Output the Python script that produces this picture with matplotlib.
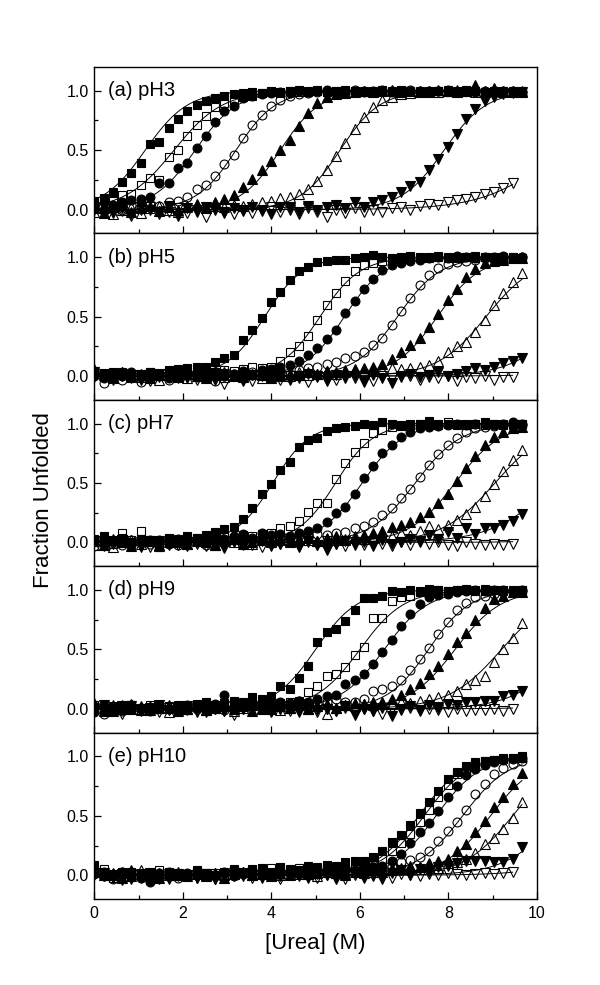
import numpy as np
import matplotlib
matplotlib.use("Agg")
import matplotlib.pyplot as plt
from matplotlib.ticker import MultipleLocator, FormatStrFormatter

plt.rcParams['font.family'] = ['Liberation Sans', 'DejaVu Sans']

# urea titration points (M)
urea = np.arange(47) * 0.21

# ---- (a) pH3 ----
a_fsq = [0.07, 0.10, 0.15, 0.23, 0.31, 0.39, 0.55, 0.57, 0.69, 0.76,
         0.83, 0.88, 0.91, 0.94, 0.96, 0.97, 0.98, 0.99, 0.98, 1.00,
         0.99, 1.00, 1.01, 0.99, 1.00, 0.99, 1.00, 1.01, 1.00, 0.99,
         1.00, 1.00, 0.99, 1.01, 1.00, 0.99, 1.00, 1.00, 0.99, 1.00,
         1.01, 1.00, 0.99, 1.00, 1.00, 0.99, 1.00]
a_osq = [0.03, 0.09, 0.07, 0.12, 0.13, 0.21, 0.27, 0.25, 0.44, 0.50,
         0.62, 0.71, 0.79, 0.86, 0.90, 0.93, 0.95, 0.96, 0.98, 0.99,
         0.98, 1.00, 0.99, 1.00, 1.01, 0.99, 1.00, 0.99, 1.00, 1.00,
         0.99, 1.01, 1.00, 0.99, 1.00, 1.00, 0.99, 1.00, 1.01, 0.99,
         1.00, 1.00, 0.99, 1.00, 0.99, 1.00, 0.99]
a_fci = [0.03, 0.00, 0.04, 0.06, 0.08, 0.09, 0.11, 0.22, 0.22, 0.35,
         0.39, 0.52, 0.62, 0.74, 0.83, 0.87, 0.94, 0.96, 0.97, 0.98,
         0.99, 0.98, 1.00, 0.99, 1.00, 1.01, 0.99, 1.00, 1.00, 0.99,
         1.00, 1.01, 0.99, 1.00, 1.00, 0.99, 1.00, 1.00, 1.01, 0.99,
         1.00, 0.99, 1.00, 1.00, 0.99, 1.00, 0.99]
a_oci = [0.02, -0.01, 0.03, 0.00, 0.04, 0.02, 0.05, 0.03, 0.06, 0.07,
         0.11, 0.17, 0.21, 0.28, 0.38, 0.46, 0.60, 0.71, 0.80, 0.87,
         0.92, 0.96, 0.97, 0.98, 0.99, 1.00, 0.99, 1.00, 1.01, 1.00,
         0.99, 1.00, 1.00, 0.99, 1.01, 1.00, 0.99, 1.00, 1.00, 0.99,
         1.00, 1.01, 0.99, 1.00, 1.00, 0.99, 0.99]
a_ftr = [0.01, -0.03, 0.02, 0.04, -0.02, 0.01, 0.03, -0.01, 0.02, 0.00,
         0.03, 0.05, 0.02, 0.06, 0.09, 0.12, 0.19, 0.26, 0.33, 0.41,
         0.50, 0.59, 0.70, 0.81, 0.90, 0.95, 0.97, 0.98, 0.99, 1.00,
         0.99, 1.00, 1.01, 0.99, 1.00, 1.00, 0.99, 1.01, 1.00, 0.99,
         1.00, 1.05, 0.99, 1.02, 1.00, 0.99, 1.00]
a_otr = [-0.02, 0.01, -0.04, 0.00, 0.02, -0.03, 0.01, 0.03, 0.00, -0.02,
         0.02, 0.04, 0.01, 0.03, 0.02, 0.04, 0.03, 0.05, 0.06, 0.07,
         0.10, 0.11, 0.13, 0.17, 0.24, 0.33, 0.45, 0.56, 0.68, 0.78,
         0.86, 0.92, 0.95, 0.97, 0.98, 0.99, 1.00, 0.99, 1.00, 1.01,
         1.00, 0.99, 1.00, 1.00, 0.99, 1.00, 0.99]
a_fdt = [0.00, 0.02, -0.03, 0.01, -0.04, 0.02, 0.00, -0.02, 0.03, -0.05,
         0.01, -0.02, 0.02, 0.00, -0.03, 0.01, -0.01, 0.02, 0.00, -0.04,
         0.02, 0.01, -0.02, 0.03, 0.00, 0.02, 0.04, 0.01, 0.06, 0.02,
         0.06, 0.08, 0.11, 0.15, 0.20, 0.23, 0.33, 0.43, 0.53, 0.64,
         0.76, 0.85, 0.91, 0.95, 0.97, 0.98, 0.99]
a_odt = [0.01, -0.03, 0.02, -0.01, -0.05, 0.00, 0.02, -0.04, -0.02, 0.01,
         -0.03, 0.00, -0.06, 0.01, -0.02, -0.04, 0.00, -0.03, -0.01, 0.02,
         -0.02, 0.00, -0.04, 0.01, -0.02, -0.06, 0.00, -0.03, 0.01, -0.02,
         0.00, -0.02, 0.01, 0.02, 0.00, 0.03, 0.05, 0.04, 0.06, 0.08,
         0.09, 0.11, 0.13, 0.15, 0.18, 0.22]
a_mid = [1.15, 1.8, 2.28, 3.2, 4.2, 5.55, 7.9, 10.5]
a_width = [0.48, 0.55, 0.48, 0.45, 0.45, 0.45, 0.48, 0.8]

# ---- (b) pH5 ----
b_fsq = [0.02, 0.00, 0.03, 0.01, -0.01, 0.02, 0.03, 0.00, 0.05, 0.06,
         0.07, 0.08, 0.08, 0.12, 0.15, 0.18, 0.30, 0.39, 0.49, 0.62,
         0.71, 0.81, 0.88, 0.92, 0.96, 0.97, 0.98, 0.98, 0.99, 1.00,
         1.02, 1.00, 0.99, 1.00, 1.01, 1.00, 0.99, 1.00, 1.00, 0.99,
         1.00, 1.01, 1.00, 0.99, 1.00, 1.00, 0.99]
b_osq = [0.04, 0.02, 0.00, 0.03, -0.02, 0.01, 0.03, 0.00, 0.02, -0.01,
         0.03, 0.02, 0.04, 0.03, 0.05, 0.04, 0.06, 0.08, 0.07, 0.08,
         0.13, 0.20, 0.25, 0.34, 0.47, 0.60, 0.70, 0.80, 0.88, 0.93,
         0.95, 0.97, 0.98, 0.99, 1.00, 0.99, 1.00, 1.01, 0.99, 1.00,
         1.00, 0.99, 1.00, 1.00, 0.99, 1.00, 0.99]
b_fci = [0.01, -0.02, 0.02, 0.00, 0.03, -0.01, 0.01, 0.02, -0.02, 0.00,
         0.02, 0.01, -0.01, 0.03, 0.00, 0.02, 0.04, 0.01, 0.05, 0.06,
         0.08, 0.09, 0.13, 0.18, 0.24, 0.31, 0.39, 0.53, 0.63, 0.73,
         0.82, 0.89, 0.93, 0.95, 0.97, 0.98, 0.99, 1.00, 0.99, 1.01,
         1.00, 0.99, 1.00, 1.00, 1.01, 0.99, 1.00]
b_oci = [0.00, -0.06, 0.01, -0.03, 0.02, -0.05, -0.02, 0.01, -0.03, 0.00,
         0.02, -0.01, 0.01, -0.04, 0.00, 0.02, -0.02, 0.03, 0.01, 0.00,
         0.03, 0.02, 0.05, 0.07, 0.08, 0.10, 0.12, 0.15, 0.17, 0.20,
         0.26, 0.32, 0.43, 0.55, 0.66, 0.77, 0.85, 0.91, 0.94, 0.96,
         0.97, 0.98, 0.99, 0.99, 1.00, 0.99, 1.00]
b_ftr = [0.05, 0.02, -0.01, 0.03, 0.00, 0.02, -0.02, 0.01, 0.03, -0.01,
         0.02, 0.00, -0.02, 0.01, 0.03, 0.00, -0.01, 0.02, 0.01, -0.02,
         0.00, 0.02, 0.01, 0.03, 0.02, 0.04, 0.03, 0.05, 0.06, 0.07,
         0.08, 0.10, 0.14, 0.20, 0.26, 0.32, 0.41, 0.52, 0.64, 0.73,
         0.83, 0.90, 0.95, 0.97, 0.98, 0.99, 0.99]
b_otr = [0.06, 0.01, -0.02, 0.03, 0.00, -0.01, 0.02, -0.03, 0.01, 0.00,
         -0.02, 0.02, 0.00, 0.03, -0.01, 0.01, 0.00, 0.02, -0.02, 0.01,
         0.02, 0.00, 0.03, 0.01, 0.02, 0.04, 0.02, 0.03, 0.05, 0.04,
         0.06, 0.05, 0.07, 0.06, 0.07, 0.08, 0.09, 0.13, 0.20, 0.25,
         0.29, 0.37, 0.47, 0.60, 0.70, 0.79, 0.87]
b_fdt = [0.03, 0.00, -0.02, 0.02, 0.01, -0.03, 0.00, 0.02, -0.01, 0.01,
         -0.02, 0.00, 0.01, -0.03, 0.02, 0.00, -0.04, 0.01, 0.00, -0.02,
         0.01, -0.03, 0.00, 0.02, -0.01, -0.04, 0.01, -0.02, 0.00, -0.05,
         0.01, -0.02, -0.06, 0.00, 0.02, -0.01, 0.01, 0.03, 0.00, 0.02,
         0.04, 0.07, 0.05, 0.08, 0.11, 0.13, 0.15]
b_odt = [-0.01, 0.02, -0.03, 0.00, -0.02, 0.01, -0.04, -0.01, 0.02, -0.02,
         0.00, -0.03, 0.01, -0.02, -0.07, 0.00, -0.02, -0.04, 0.01, -0.01,
         -0.03, 0.00, -0.02, -0.05, 0.00, -0.01, -0.03, 0.00, -0.02, -0.01,
         -0.04, 0.00, -0.02, -0.01, 0.00, -0.03, -0.01, -0.02, 0.00, -0.04,
         -0.01, -0.02, 0.00, -0.03, -0.01, -0.01]
b_mid = [3.85, 5.1, 5.65, 6.85, 7.75, 8.85, 10.7, 13.0]
b_width = [0.43, 0.45, 0.45, 0.48, 0.48, 0.55, 0.6, 0.7]

# ---- (c) pH7 ----
c_fsq = [0.03, 0.05, 0.02, 0.04, 0.00, 0.03, 0.01, 0.02, 0.04, 0.03,
         0.05, 0.04, 0.06, 0.09, 0.11, 0.13, 0.20, 0.29, 0.41, 0.49,
         0.61, 0.68, 0.80, 0.86, 0.88, 0.94, 0.96, 0.97, 0.98, 1.00,
         0.99, 1.01, 1.00, 0.99, 1.00, 1.00, 1.02, 0.99, 1.00, 1.00,
         0.99, 1.00, 1.01, 1.00, 0.99, 1.00, 1.00]
c_osq = [0.00, 0.03, -0.01, 0.08, 0.02, 0.10, 0.02, -0.04, 0.03, 0.01,
         0.02, 0.04, 0.03, 0.02, 0.05, 0.04, 0.06, 0.05, 0.07, 0.08,
         0.12, 0.14, 0.18, 0.26, 0.33, 0.33, 0.53, 0.67, 0.76, 0.84,
         0.92, 0.95, 0.97, 0.98, 0.99, 1.00, 0.99, 1.00, 1.01, 0.99,
         1.00, 1.00, 0.99, 1.00, 1.00, 0.99, 1.00]
c_fci = [0.02, -0.01, 0.01, 0.03, -0.02, 0.00, 0.02, 0.01, -0.01, 0.03,
         0.00, 0.02, 0.04, 0.01, 0.03, 0.05, 0.07, 0.04, 0.08, 0.06,
         0.07, 0.05, 0.08, 0.10, 0.12, 0.17, 0.25, 0.30, 0.41, 0.54,
         0.64, 0.75, 0.82, 0.89, 0.93, 0.96, 0.97, 0.98, 0.99, 1.00,
         0.99, 1.00, 1.00, 0.99, 1.00, 1.01, 1.00]
c_oci = [-0.03, 0.01, 0.00, -0.02, 0.02, 0.00, -0.01, 0.02, 0.01, -0.02,
         0.00, 0.01, -0.02, 0.02, 0.00, 0.03, 0.01, 0.02, 0.04, 0.03,
         0.05, 0.04, 0.06, 0.05, 0.07, 0.06, 0.08, 0.09, 0.12, 0.14,
         0.17, 0.23, 0.29, 0.37, 0.45, 0.55, 0.65, 0.74, 0.82, 0.88,
         0.93, 0.96, 0.97, 0.98, 0.99, 0.99, 0.99]
c_ftr = [0.02, -0.02, 0.03, 0.00, -0.03, 0.02, 0.01, -0.02, 0.03, 0.00,
         -0.01, 0.02, 0.00, -0.02, 0.01, 0.03, -0.01, 0.00, 0.02, 0.01,
         0.03, 0.00, 0.02, 0.04, 0.01, 0.03, 0.05, 0.02, 0.04, 0.06,
         0.08, 0.10, 0.13, 0.15, 0.17, 0.21, 0.26, 0.33, 0.41, 0.52,
         0.63, 0.73, 0.82, 0.89, 0.93, 0.96, 0.97]
c_otr = [-0.02, 0.01, -0.04, 0.00, 0.02, -0.01, 0.01, -0.03, 0.00, 0.02,
         -0.01, 0.01, 0.00, -0.02, 0.02, 0.00, 0.01, -0.01, 0.03, 0.00,
         0.02, 0.01, 0.03, 0.02, 0.01, 0.04, 0.02, 0.03, 0.05, 0.03,
         0.04, 0.06, 0.05, 0.08, 0.06, 0.10, 0.14, 0.11, 0.15, 0.19,
         0.24, 0.30, 0.39, 0.49, 0.60, 0.69, 0.78]
c_fdt = [0.01, -0.02, 0.00, 0.02, -0.01, -0.04, 0.01, 0.00, -0.02, 0.01,
         -0.03, 0.00, 0.02, -0.01, -0.05, 0.01, -0.02, 0.00, 0.01, -0.03,
         -0.01, 0.00, -0.04, 0.01, -0.02, -0.06, -0.01, 0.01, -0.02, 0.00,
         -0.03, 0.02, -0.01, 0.00, 0.03, 0.01, 0.06, 0.03, 0.09, 0.04,
         0.12, 0.07, 0.12, 0.12, 0.15, 0.18, 0.24]
c_odt = [0.00, -0.03, -0.01, 0.02, -0.02, 0.00, -0.04, -0.01, 0.01, -0.02,
         0.00, -0.01, -0.03, 0.01, -0.02, 0.00, 0.02, -0.02, -0.04, 0.00,
         -0.01, 0.01, -0.03, 0.00, -0.02, 0.01, -0.01, -0.03, 0.00, -0.02,
         0.01, -0.01, -0.03, 0.00, -0.02, 0.00, -0.01, 0.00, -0.02, -0.03,
         0.00, -0.01, -0.02, -0.01, -0.02, -0.01]
c_mid = [4.03, 5.45, 6.05, 7.25, 8.15, 9.05, 10.4, 13.0]
c_width = [0.42, 0.43, 0.47, 0.52, 0.52, 0.6, 0.7, 0.7]

# ---- (d) pH9 ----
d_fsq = [0.01, -0.02, 0.02, 0.00, 0.03, 0.01, -0.01, 0.02, 0.00, 0.03,
         0.02, 0.04, 0.06, 0.03, 0.05, 0.07, 0.06, 0.10, 0.08, 0.11,
         0.19, 0.17, 0.26, 0.36, 0.56, 0.65, 0.67, 0.74, 0.83, 0.93,
         0.93, 0.95, 0.99, 0.98, 1.00, 0.99, 1.01, 1.00, 0.99, 1.00,
         1.00, 0.99, 1.01, 1.00, 0.99, 1.00, 1.00]
d_osq = [0.03, 0.00, -0.02, 0.02, 0.01, -0.01, 0.03, 0.00, 0.02, -0.01,
         0.01, 0.03, 0.00, 0.02, 0.04, 0.01, 0.03, 0.02, 0.04, 0.03,
         0.05, 0.06, 0.07, 0.14, 0.19, 0.28, 0.29, 0.35, 0.45, 0.52,
         0.76, 0.76, 0.91, 0.94, 0.95, 0.98, 0.99, 1.00, 0.99, 1.00,
         1.01, 1.00, 0.99, 1.00, 1.00, 0.99, 1.00]
d_fci = [-0.03, 0.02, 0.00, -0.01, 0.03, 0.01, -0.02, 0.02, 0.00, 0.01,
         0.03, 0.00, 0.02, 0.04, 0.12, 0.02, 0.04, 0.03, 0.05, 0.04,
         0.06, 0.05, 0.07, 0.06, 0.08, 0.11, 0.12, 0.21, 0.24, 0.29,
         0.38, 0.48, 0.58, 0.70, 0.80, 0.88, 0.94, 0.96, 0.97, 0.98,
         0.99, 1.00, 0.99, 1.00, 1.00, 0.99, 1.00]
d_oci = [0.02, -0.04, 0.01, -0.02, 0.03, 0.00, -0.01, 0.02, 0.00, -0.02,
         0.01, 0.03, 0.00, 0.02, -0.01, 0.01, 0.03, 0.02, 0.00, 0.03,
         0.02, 0.04, 0.07, 0.03, 0.05, 0.06, 0.08, 0.06, 0.06, 0.08,
         0.15, 0.17, 0.19, 0.24, 0.33, 0.42, 0.51, 0.63, 0.73, 0.83,
         0.89, 0.94, 0.95, 0.97, 0.98, 0.99, 0.99]
d_ftr = [0.04, 0.01, -0.02, 0.03, 0.00, 0.02, -0.01, 0.01, 0.03, -0.02,
         0.00, 0.02, -0.01, 0.01, 0.03, 0.00, 0.02, -0.02, 0.01, 0.00,
         0.02, 0.01, 0.03, 0.00, 0.02, 0.04, 0.01, 0.03, 0.05, 0.04,
         0.06, 0.06, 0.08, 0.12, 0.17, 0.22, 0.29, 0.36, 0.46, 0.56,
         0.64, 0.75, 0.85, 0.92, 0.95, 0.98, 0.98]
d_otr = [0.05, -0.02, 0.03, 0.00, 0.04, -0.01, 0.02, 0.01, -0.03, 0.02,
         0.00, 0.03, -0.01, 0.01, 0.02, -0.02, 0.01, 0.03, 0.00, 0.02,
         -0.01, 0.01, 0.03, 0.00, 0.02, -0.04, 0.01, 0.03, 0.02, 0.04,
         0.03, 0.05, 0.04, 0.06, 0.05, 0.07, 0.08, 0.10, 0.12, 0.15,
         0.21, 0.24, 0.28, 0.39, 0.50, 0.60, 0.72]
d_fdt = [0.00, 0.03, -0.01, 0.02, 0.00, -0.02, 0.01, 0.03, -0.01, 0.00,
         0.02, -0.03, 0.01, 0.00, -0.02, 0.02, 0.00, -0.01, 0.01, -0.02,
         0.00, 0.02, -0.03, 0.01, -0.01, 0.00, -0.02, 0.02, -0.05, 0.00,
         -0.02, 0.01, -0.06, 0.00, 0.02, -0.01, 0.03, 0.01, 0.04, 0.03,
         0.06, 0.06, 0.07, 0.07, 0.11, 0.12, 0.15]
d_odt = [0.01, -0.02, 0.00, -0.04, 0.02, -0.01, 0.00, -0.03, 0.01, -0.02,
         -0.01, 0.01, -0.03, 0.00, -0.02, -0.05, 0.00, -0.01, 0.02, -0.03,
         0.00, -0.02, -0.01, 0.01, -0.03, 0.00, -0.02, 0.01, -0.01, 0.00,
         -0.02, -0.04, 0.00, -0.01, 0.01, -0.02, 0.00, -0.01, -0.03, 0.00,
         -0.02, -0.01, -0.01, 0.00, -0.02, 0.00]
d_mid = [5.0, 6.0, 6.55, 7.55, 8.15, 9.2, 10.7, 13.0]
d_width = [0.47, 0.5, 0.5, 0.47, 0.52, 0.6, 0.6, 0.7]

# ---- (e) pH10 ----
e_fsq = [0.09, 0.02, 0.00, 0.03, -0.01, 0.02, 0.01, -0.02, 0.03, 0.00,
         0.01, 0.04, 0.02, 0.00, 0.03, 0.05, 0.02, 0.04, 0.06, 0.03,
         0.07, 0.05, 0.04, 0.08, 0.06, 0.09, 0.07, 0.11, 0.12, 0.12,
         0.15, 0.20, 0.28, 0.34, 0.42, 0.52, 0.62, 0.71, 0.81, 0.87,
         0.92, 0.95, 0.96, 0.97, 0.99, 0.99, 1.00]
e_osq = [0.03, 0.05, -0.02, 0.01, 0.03, 0.00, 0.02, 0.04, -0.01, 0.02,
         0.00, 0.03, 0.01, 0.02, 0.00, 0.04, 0.02, 0.05, 0.03, 0.06,
         0.04, 0.03, 0.06, 0.05, 0.07, 0.05, 0.08, 0.06, 0.07, 0.09,
         0.10, 0.14, 0.20, 0.27, 0.35, 0.45, 0.55, 0.66, 0.76, 0.85,
         0.90, 0.94, 0.96, 0.97, 0.98, 0.99, 0.99]
e_fci = [0.02, -0.01, 0.01, 0.03, 0.00, -0.02, -0.06, 0.02, -0.01, 0.00,
         0.02, 0.00, 0.01, 0.00, 0.03, -0.01, 0.02, 0.00, 0.04, 0.01,
         0.02, 0.03, 0.01, 0.04, 0.02, 0.05, 0.03, 0.06, 0.04, 0.05,
         0.07, 0.08, 0.12, 0.18, 0.27, 0.36, 0.44, 0.54, 0.66, 0.75,
         0.84, 0.89, 0.93, 0.95, 0.97, 0.98, 0.99]
e_oci = [0.01, 0.03, -0.03, 0.00, 0.02, -0.01, 0.02, 0.00, 0.03, -0.02,
         0.00, 0.02, 0.01, -0.01, 0.02, 0.00, 0.01, 0.03, 0.00, 0.02,
         0.01, 0.03, 0.02, 0.04, 0.03, 0.02, 0.05, 0.04, 0.06, 0.05,
         0.07, 0.06, 0.08, 0.11, 0.13, 0.15, 0.20, 0.29, 0.37, 0.45,
         0.55, 0.68, 0.77, 0.85, 0.90, 0.94, 0.96]
e_ftr = [0.03, 0.00, 0.02, -0.02, 0.04, 0.01, -0.01, 0.02, 0.00, 0.03,
         -0.01, 0.01, 0.00, 0.02, -0.02, 0.01, 0.03, 0.00, 0.01, -0.01,
         0.02, 0.00, 0.03, 0.01, 0.02, 0.04, 0.02, 0.00, 0.03, 0.05,
         0.04, 0.03, 0.06, 0.05, 0.08, 0.07, 0.10, 0.12, 0.14, 0.20,
         0.26, 0.36, 0.46, 0.57, 0.66, 0.77, 0.86]
e_otr = [0.04, 0.02, 0.00, 0.03, -0.01, 0.04, 0.01, -0.02, 0.02, 0.00,
         0.01, 0.03, -0.01, 0.02, 0.00, 0.01, 0.03, 0.00, 0.02, 0.01,
         0.00, 0.04, 0.01, 0.02, -0.01, 0.03, 0.02, 0.01, 0.04, 0.02,
         0.03, 0.05, 0.04, 0.06, 0.05, 0.07, 0.08, 0.06, 0.10, 0.11,
         0.14, 0.19, 0.26, 0.31, 0.39, 0.48, 0.62]
e_fdt = [0.00, 0.02, -0.02, 0.01, -0.03, 0.00, 0.02, -0.01, -0.03, 0.01,
         0.00, -0.02, 0.01, -0.03, 0.00, 0.02, -0.01, 0.00, -0.02, 0.01,
         -0.01, 0.00, 0.02, -0.02, 0.01, 0.00, -0.03, 0.01, 0.02, -0.02,
         0.00, -0.03, 0.02, 0.04, 0.00, 0.05, 0.03, 0.07, 0.08, 0.10,
         0.12, 0.12, 0.12, 0.11, 0.11, 0.14, 0.24]
e_odt = [0.02, -0.01, 0.00, -0.04, 0.01, -0.02, 0.00, -0.03, 0.01, -0.01,
         0.00, -0.02, 0.01, -0.03, 0.00, -0.01, 0.02, -0.02, 0.00, -0.01,
         -0.03, 0.00, -0.01, 0.01, -0.02, 0.00, -0.01, -0.03, 0.00, 0.01,
         -0.01, 0.00, -0.02, 0.01, 0.00, -0.01, 0.01, 0.00, 0.02, 0.01,
         0.00, 0.01, 0.02, 0.01, 0.02, 0.03]
e_mid = [7.33, 7.45, 7.72, 8.32, 8.95, 9.45, 10.5, 12.0]
e_width = [0.5, 0.5, 0.5, 0.52, 0.52, 0.55, 0.6, 0.7]

panel_labels = ["(a) pH3", "(b) pH5", "(c) pH7", "(d) pH9", "(e) pH10"]
panels = [
    ([a_fsq, a_osq, a_fci, a_oci, a_ftr, a_otr, a_fdt, a_odt], a_mid, a_width),
    ([b_fsq, b_osq, b_fci, b_oci, b_ftr, b_otr, b_fdt, b_odt], b_mid, b_width),
    ([c_fsq, c_osq, c_fci, c_oci, c_ftr, c_otr, c_fdt, c_odt], c_mid, c_width),
    ([d_fsq, d_osq, d_fci, d_oci, d_ftr, d_otr, d_fdt, d_odt], d_mid, d_width),
    ([e_fsq, e_osq, e_fci, e_oci, e_ftr, e_otr, e_fdt, e_odt], e_mid, e_width),
]

markers = ['s', 's', 'o', 'o', '^', '^', 'v', 'v']
filled = [True, False, True, False, True, False, True, False]
msizes = [5.8, 5.8, 6.4, 6.4, 7.2, 7.2, 7.2, 7.2]


def two_state(x, mid, width):
    return 1.0 / (1.0 + np.exp((mid - x) / width))


fig = plt.figure(figsize=(6.0, 9.85), dpi=100)
W, H = 600.0, 985.0
left, right = 94.3, 537.0
top0, ph = 67.0, 166.4

for i, (series, mids, widths) in enumerate(panels):
    bottom_px = top0 + ph * (i + 1)
    ax = fig.add_axes([left / W, 1 - bottom_px / H, (right - left) / W, ph / H])
    for j, y in enumerate(series):
        xs = urea[:len(y)]
        ax.plot(xs, y, linestyle='none', marker=markers[j], ms=msizes[j],
                mec='black', mew=0.8,
                mfc='black' if filled[j] else 'none', zorder=2)
        xf = np.linspace(0, xs[-1], 300)
        ax.plot(xf, two_state(xf, mids[j], widths[j]), color='black',
                lw=0.7, zorder=3)
    ax.set_xlim(0, 10)
    ax.set_ylim(-0.2, 1.2)
    ax.set_yticks([0.0, 0.5, 1.0])
    ax.yaxis.set_major_formatter(FormatStrFormatter('%.1f'))
    ax.yaxis.set_minor_locator(MultipleLocator(0.25))
    ax.xaxis.set_major_locator(MultipleLocator(2))
    ax.xaxis.set_minor_locator(MultipleLocator(1))
    ax.tick_params(axis='x', which='major', direction='in', length=5, width=0.9,
                   labelsize=11.5, pad=5)
    ax.tick_params(axis='x', which='minor', direction='in', length=3, width=0.9)
    ax.tick_params(axis='y', which='major', direction='in', length=5, width=0.9,
                   labelsize=11.5, pad=4)
    ax.tick_params(axis='y', which='minor', direction='in', length=3, width=0.9)
    if i < len(panels) - 1:
        ax.tick_params(axis='x', labelbottom=False)
    for sp in ax.spines.values():
        sp.set_linewidth(1.0)
    ax.text(0.3, 1.0, panel_labels[i], fontsize=14.5, va='center', ha='left',
            zorder=5)

fig.text(44 / W, 1 - 500 / H, 'Fraction Unfolded', rotation=90,
         ha='center', va='center', fontsize=16)
fig.text(315.5 / W, 1 - 943 / H, '[Urea] (M)', ha='center', va='center',
         fontsize=16)

fig.savefig('out.png', dpi=100)
